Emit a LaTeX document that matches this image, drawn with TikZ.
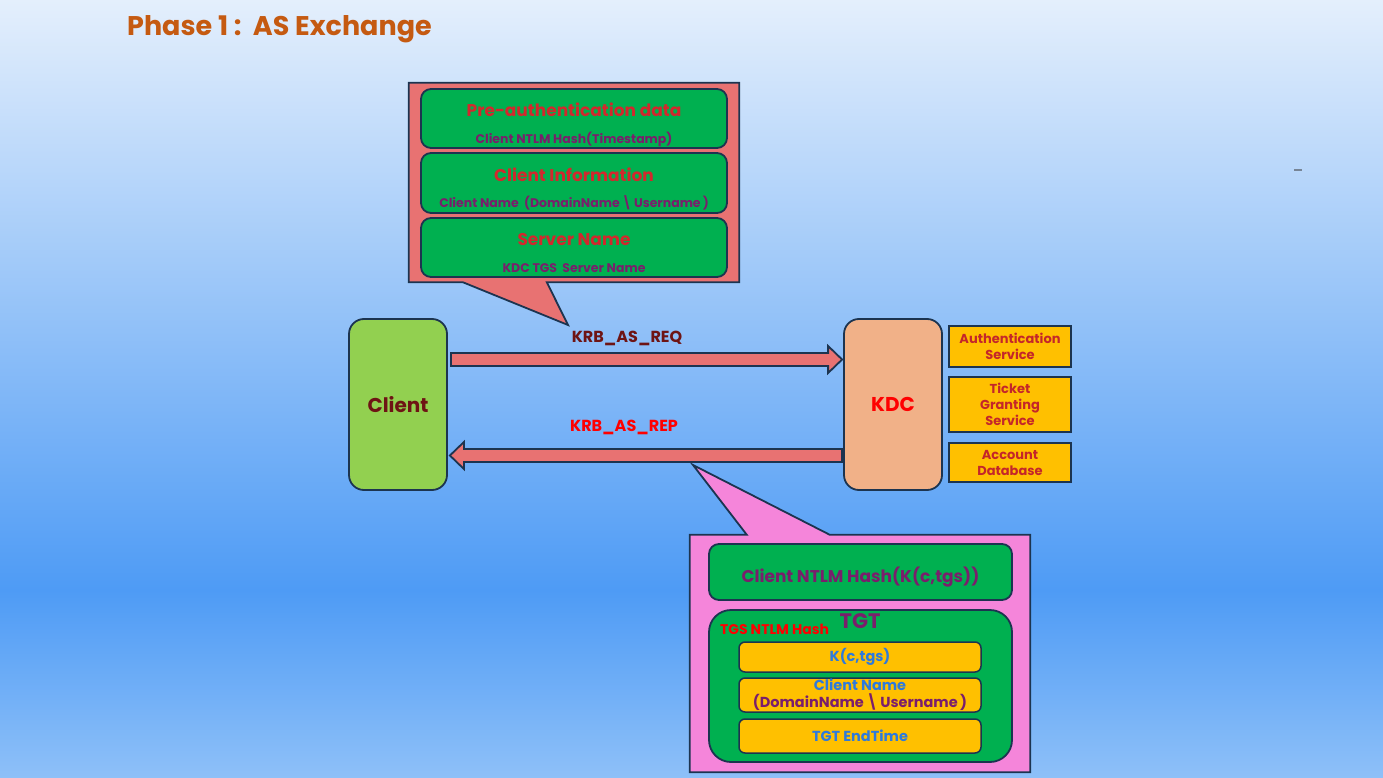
\documentclass[tikz,border=0pt]{standalone}
\usepackage{fontspec}
\setmainfont{Poppins}
\usetikzlibrary{positioning,calc}
\definecolor{TitleOrange}{RGB}{197,90,17}
\definecolor{EdgeNavy}{RGB}{28,52,80}
\definecolor{BoxGreen}{RGB}{0,176,80}
\definecolor{CallRed}{RGB}{232,114,114}
\definecolor{CallPink}{RGB}{245,133,218}
\definecolor{HeadRed}{RGB}{210,40,45}
\definecolor{DeepPurple}{RGB}{122,30,108}
\definecolor{ClientGreen}{RGB}{146,208,80}
\definecolor{KdcPeach}{RGB}{241,177,136}
\definecolor{SvcGold}{RGB}{255,192,0}
\definecolor{SvcRed}{RGB}{196,38,42}
\definecolor{KeyBlue}{RGB}{46,122,220}
\definecolor{ReqDark}{RGB}{110,20,20}
\definecolor{BgTop}{RGB}{228,239,252}
\definecolor{BgMid}{RGB}{78,155,245}
\definecolor{BgLow}{RGB}{142,192,248}

\begin{document}
\begin{tikzpicture}[x=1pt,y=-1pt,node distance=3.2pt,line join=miter]
\tikzset{outl/.style={draw=EdgeNavy,line width=1.8pt},
  gbox/.style={outl,fill=BoxGreen,rounded corners=10pt,minimum width=306pt,inner sep=0pt},
  hd/.style={text=HeadRed,font=\bfseries\fontsize{17}{20}\selectfont,inner sep=0pt},
  sub/.style={text=DeepPurple,font=\bfseries\fontsize{12.5}{15}\selectfont,inner sep=0pt},
  party/.style={outl,rounded corners=15pt,minimum width=98pt,minimum height=171pt,font=\bfseries\fontsize{20}{24}\selectfont},
  svc/.style={outl,fill=SvcGold,minimum width=122pt,inner sep=0pt,align=center,text=SvcRed,font=\bfseries\fontsize{13}{16}\selectfont},
  fat/.style={outl,fill=CallRed},
  msg/.style={font=\bfseries\fontsize{16}{19}\selectfont,inner sep=0pt},
  ybox/.style={outl,line width=1.5pt,fill=SvcGold,rounded corners=6pt,minimum width=242pt,inner sep=0pt,align=center,text=KeyBlue,font=\bfseries\fontsize{14.5}{17}\selectfont}}
\useasboundingbox (0,0) rectangle (1383,778);
\shade[top color=BgTop,bottom color=BgMid] (0,0) rectangle (1383,590);
\shade[top color=BgMid,bottom color=BgLow] (0,590) rectangle (1383,778);
\draw[EdgeNavy!60,line width=1.5pt] (1294,170) -- (1302,170);

\node[anchor=west,text=TitleOrange,font=\bfseries\fontsize{27}{31}\selectfont,inner sep=0pt] (phase) at (127,29) {Phase 1 :\ \ AS Exchange};

\node[minimum width=330pt,minimum height=199pt,inner sep=0pt] (reqcall) at (574,182.5) {};
\coordinate (reqtip) at (568,325);
\draw[outl,fill=CallRed] (reqcall.north west) -- (reqcall.north east) -- (reqcall.south east) -- ([xshift=138pt]reqcall.south west) -- (reqtip) -- ([xshift=54pt]reqcall.south west) -- (reqcall.south west) -- cycle;
\node[gbox,minimum height=59pt] (preauth) at (574,118.5) {};
\node[gbox,minimum height=60pt,below=of preauth] (cinfo) {};
\node[gbox,minimum height=59pt,below=of cinfo] (sname) {};
\node[hd] (preauthhd) at ([yshift=8.5pt]preauth.center) {Pre-authentication data};
\node[sub] (preauthsub) at ([yshift=-20.5pt]preauth.center) {Client NTLM Hash(Timestamp)};
\node[hd] (cinfohd) at ([yshift=8pt]cinfo.center) {Client Information};
\node[sub] (cinfosub) at ([yshift=-20pt]cinfo.center) {Client Name\ \ (DomainName\,\textbackslash\,Username\,)};
\node[hd] (snamehd) at ([yshift=7.5pt]sname.center) {Server Name};
\node[sub] (snamesub) at ([yshift=-20.5pt]sname.center) {KDC TGS\ \ Server Name};

\node[party,fill=ClientGreen,text=ReqDark] (client) at (398,404.5) {Client};
\node[party,fill=KdcPeach,text=red] (kdc) at (893,404.5) {KDC};
\node[svc,minimum height=41pt] (authsvc) at (1010,346.5) {Authentication\\Service};
\node[svc,minimum height=55pt,below=8.2pt of authsvc] (tgsvc) {Ticket\\Granting\\Service};
\node[svc,minimum height=39pt,below=9.2pt of tgsvc] (acctdb) {Account\\Database};

\coordinate (reqS) at ([xshift=3pt,yshift=45pt]client.east);
\coordinate (reqE) at ([xshift=-1pt,yshift=45pt]kdc.west);
\draw[fat] ($(reqS)+(0,-6.5)$) -- ($(reqE)+(-14,-6.5)$) -- ($(reqE)+(-14,-13.5)$) -- (reqE) -- ($(reqE)+(-14,13.5)$) -- ($(reqE)+(-14,6.5)$) -- ($(reqS)+(0,6.5)$) -- cycle;
\node[msg,text=ReqDark] (reqlbl) at (627,338) {KRB\_AS\_REQ};
\coordinate (repS) at ([xshift=-1pt,yshift=-51pt]kdc.west);
\coordinate (repE) at ([xshift=2pt,yshift=-51pt]client.east);
\draw[fat] ($(repS)+(0,-6.5)$) -- ($(repE)+(14,-6.5)$) -- ($(repE)+(14,-13.5)$) -- (repE) -- ($(repE)+(14,13.5)$) -- ($(repE)+(14,6.5)$) -- ($(repS)+(0,6.5)$) -- cycle;
\node[msg,text=red] (replbl) at (624,427) {KRB\_AS\_REP};

\node[minimum width=340pt,minimum height=237pt,inner sep=0pt] (repcall) at (860,653.5) {};
\coordinate (reptip) at (693,465);
\draw[outl,fill=CallPink] (repcall.north west) -- ([xshift=57pt]repcall.north west) -- (reptip) -- ([xshift=140pt]repcall.north west) -- (repcall.north east) -- (repcall.south east) -- (repcall.south west) -- cycle;
\node[gbox,minimum width=303pt,minimum height=56pt] (ntlm) at (860.5,572) {};
\node[inner sep=0pt,text=DeepPurple,font=\bfseries\fontsize{17}{20}\selectfont] (ntlmtxt) at ([yshift=-5pt]ntlm.center) {Client NTLM Hash(K(c,tgs))};
\node[gbox,minimum width=303pt,minimum height=152pt,rounded corners=22pt] (tgt) at (860.5,686) {};
\node[inner sep=0pt,text=DeepPurple,font=\bfseries\fontsize{21}{24}\selectfont] (tgtname) at (860,621) {TGT};
\node[anchor=west,inner sep=0pt,text=red,font=\bfseries\fontsize{14}{17}\selectfont] (tgshash) at (720,629) {TGS NTLM Hash};
\node[ybox,minimum height=30pt] (skey) at (860,657) {K(c,tgs)};
\node[ybox,minimum height=34pt,below=4.5pt of skey] (cname) {Client Name\\{\color{DeepPurple}(DomainName\,\textbackslash\,Username\,)}};
\node[ybox,minimum height=34pt,below=5.5pt of cname] (endtime) {TGT EndTime};
\end{tikzpicture}
\end{document}
